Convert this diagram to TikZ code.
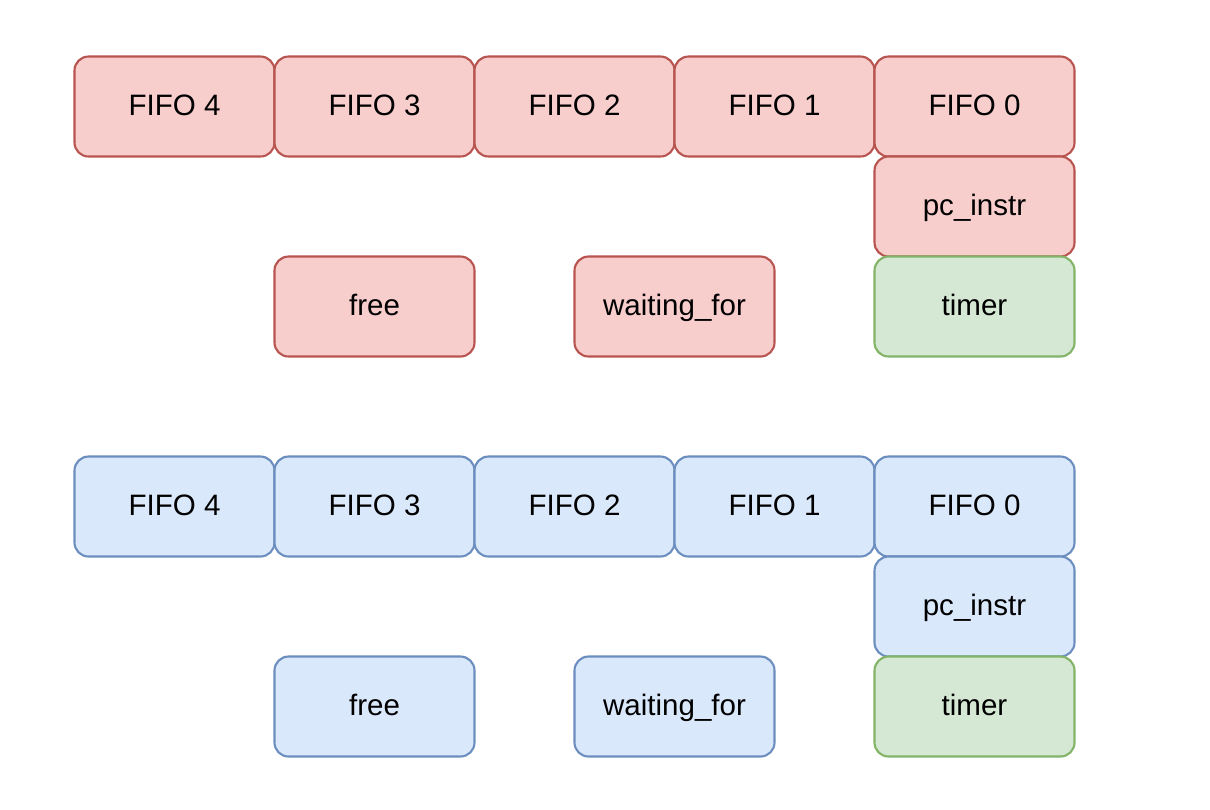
\documentclass[tikz,border=0pt]{standalone}
\usepackage{fontspec}
\setmainfont{Liberation Sans}
\usetikzlibrary{positioning}
\definecolor{redfill}{HTML}{F8CECC}
\definecolor{redline}{HTML}{B85450}
\definecolor{bluefill}{HTML}{DAE8FC}
\definecolor{blueline}{HTML}{6C8EBF}
\definecolor{greenfill}{HTML}{D5E8D4}
\definecolor{greenline}{HTML}{82B366}
\begin{document}
\begin{tikzpicture}[
    every node/.style={font=\fontsize{16.8}{20}\selectfont},
    box/.style={rectangle, draw=#1line, fill=#1fill, rounded corners=0.28cm, line width=1.2pt,
        minimum width=4cm, minimum height=2cm, inner sep=0pt, outer sep=0pt, align=center,
        text height=12.1pt, text depth=2.4pt},
    box/.default=red,
    reg/.style={box=red},
    regb/.style={box=blue},
    tim/.style={box=green},
]
\useasboundingbox (0,0) rectangle (24.2,-16.18);
% red set
\node[reg] (rfifo4) at (3.49,-2.13) {FIFO 4};
\node[reg, right=0cm of rfifo4] (rfifo3) {FIFO 3};
\node[reg, right=0cm of rfifo3] (rfifo2) {FIFO 2};
\node[reg, right=0cm of rfifo2] (rfifo1) {FIFO 1};
\node[reg, right=0cm of rfifo1] (rfifo0) {FIFO 0};
\node[reg, below=0cm of rfifo0] (rpc) {pc\_instr};
\node[tim, below=0cm of rpc] (rtimer) {timer};
\node[reg, left=2cm of rtimer] (rwait) {waiting\_for};
\node[reg, left=2cm of rwait] (rfree) {free};
% blue set
\node[regb] (bfifo4) at (3.49,-10.13) {FIFO 4};
\node[regb, right=0cm of bfifo4] (bfifo3) {FIFO 3};
\node[regb, right=0cm of bfifo3] (bfifo2) {FIFO 2};
\node[regb, right=0cm of bfifo2] (bfifo1) {FIFO 1};
\node[regb, right=0cm of bfifo1] (bfifo0) {FIFO 0};
\node[regb, below=0cm of bfifo0] (bpc) {pc\_instr};
\node[tim, below=0cm of bpc] (btimer) {timer};
\node[regb, left=2cm of btimer] (bwait) {waiting\_for};
\node[regb, left=2cm of bwait] (bfree) {free};
\end{tikzpicture}
\end{document}
